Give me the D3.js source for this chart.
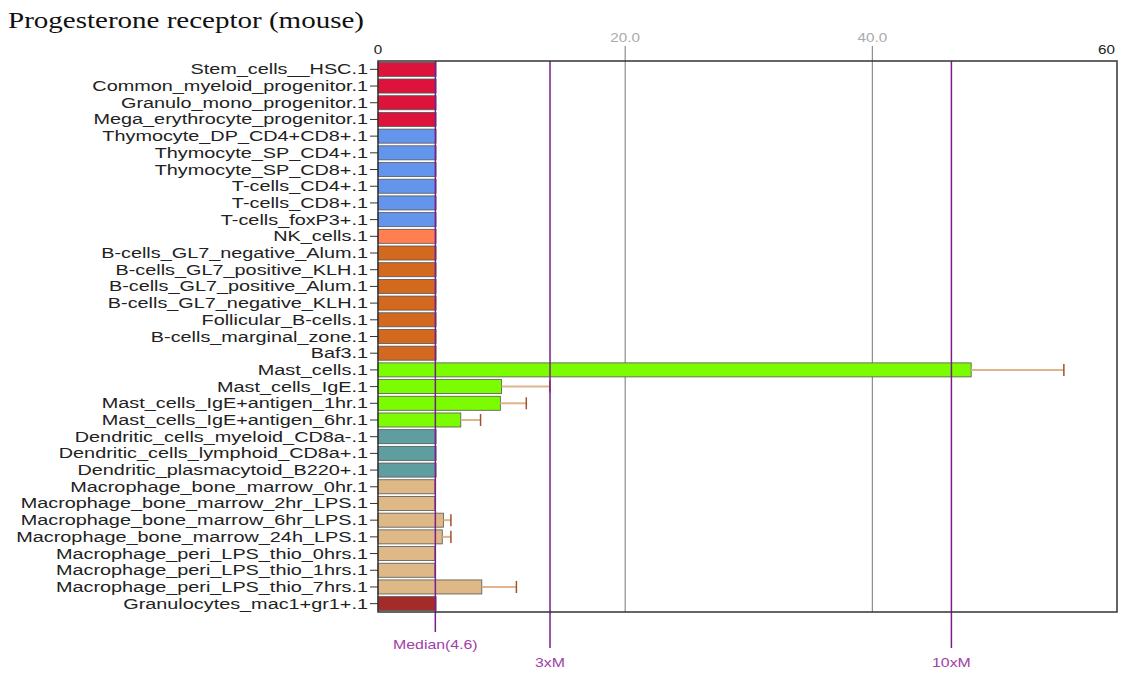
<!DOCTYPE html>
<html lang="en">
<head>
    <meta charset="UTF-8">
    <title>Progesterone receptor (mouse)</title>
    <script src="https://d3js.org/d3.v7.min.js"></script>
    <style>
        body { margin: 0; background: #fff; }
        text { font-family: "Liberation Sans", Arial, sans-serif; }
    </style>
</head>
<body>
    <svg width="1121" height="675"></svg>

    <script>
        // Data
        const categories = [
            "Stem_cells__HSC.1", "Common_myeloid_progenitor.1", "Granulo_mono_progenitor.1",
            "Mega_erythrocyte_progenitor.1", "Thymocyte_DP_CD4+CD8+.1", "Thymocyte_SP_CD4+.1",
            "Thymocyte_SP_CD8+.1", "T-cells_CD4+.1", "T-cells_CD8+.1", "T-cells_foxP3+.1",
            "NK_cells.1", "B-cells_GL7_negative_Alum.1", "B-cells_GL7_positive_KLH.1",
            "B-cells_GL7_positive_Alum.1", "B-cells_GL7_negative_KLH.1", "Follicular_B-cells.1",
            "B-cells_marginal_zone.1", "Baf3.1", "Mast_cells.1", "Mast_cells_IgE.1",
            "Mast_cells_IgE+antigen_1hr.1", "Mast_cells_IgE+antigen_6hr.1",
            "Dendritic_cells_myeloid_CD8a-.1", "Dendritic_cells_lymphoid_CD8a+.1",
            "Dendritic_plasmacytoid_B220+.1", "Macrophage_bone_marrow_0hr.1",
            "Macrophage_bone_marrow_2hr_LPS.1", "Macrophage_bone_marrow_6hr_LPS.1",
            "Macrophage_bone_marrow_24h_LPS.1", "Macrophage_peri_LPS_thio_0hrs.1",
            "Macrophage_peri_LPS_thio_1hrs.1", "Macrophage_peri_LPS_thio_7hrs.1",
            "Granulocytes_mac1+gr1+.1"
        ];
        const values = [
            4.7, 4.7, 4.7, 4.7, 4.7, 4.7, 4.7, 4.7, 4.7, 4.7,
            4.7, 4.7, 4.7, 4.7, 4.7, 4.7, 4.7, 4.7,
            48.0, 10.0, 9.9, 6.7,
            4.7, 4.7, 4.7,
            4.6, 4.6, 5.3, 5.2, 4.6, 4.6, 8.4,
            4.7
        ];
        const errors = [
            0, 0, 0, 0, 0, 0, 0, 0, 0, 0,
            0, 0, 0, 0, 0, 0, 0, 0,
            7.5, 3.9, 2.1, 1.6,
            0, 0, 0,
            0, 0, 0.6, 0.7, 0, 0, 2.8,
            0
        ];
        const barColors = [
            "#dc143c", "#dc143c", "#dc143c", "#dc143c",
            "#6495ed", "#6495ed", "#6495ed", "#6495ed", "#6495ed", "#6495ed",
            "#ff7f50",
            "#d2691e", "#d2691e", "#d2691e", "#d2691e", "#d2691e", "#d2691e", "#d2691e",
            "#7cfc00", "#7cfc00", "#7cfc00", "#7cfc00",
            "#5f9ea0", "#5f9ea0", "#5f9ea0",
            "#deb887", "#deb887", "#deb887", "#deb887", "#deb887", "#deb887", "#deb887",
            "#a52a2a"
        ];
        const median = 4.64;
        const gridTicks = [20, 40];
        const xMax = 59.8;

        const rows = categories.map((c, i) => ({ name: c, value: values[i], err: errors[i], color: barColors[i] }));

        const plot = { left: 378, right: 1117, top: 61, bottom: 612 };
        const stretch = 1.27; // labels in the reference are drawn wide

        const svg = d3.select("svg");

        const x = d3.scaleLinear().domain([0, xMax]).range([plot.left, plot.right]);
        const y = d3.scaleBand().domain(categories).range([plot.top, plot.bottom]).paddingInner(0.16).paddingOuter(0.08);

        // Title
        svg.append("text")
            .attr("transform", `translate(8,28) scale(1.29,1)`)
            .style("font-family", "'Liberation Serif', 'Times New Roman', serif")
            .style("font-size", "22.5px")
            .attr("fill", "#111")
            .text("Progesterone receptor (mouse)");

        // Grid lines at 20 and 40
        svg.selectAll(".grid")
            .data(gridTicks)
            .join("line")
            .attr("x1", d => x(d)).attr("x2", d => x(d))
            .attr("y1", 46).attr("y2", plot.bottom)
            .attr("stroke", "#777").attr("stroke-width", 1);

        svg.selectAll(".gridlab")
            .data(gridTicks)
            .join("text")
            .attr("transform", d => `translate(${x(d)},42) scale(${stretch},1)`)
            .attr("text-anchor", "middle")
            .style("font-size", "12px")
            .attr("fill", "#aaa")
            .text(d3.format(".1f"));

        // End labels 0 and 60
        svg.append("text")
            .attr("transform", `translate(${x(0)},54) scale(${stretch},1)`)
            .attr("text-anchor", "middle")
            .style("font-size", "12px")
            .attr("fill", "#222")
            .text("0");
        svg.append("text")
            .attr("transform", `translate(${x(xMax) - 2},54) scale(${stretch},1)`)
            .attr("text-anchor", "end")
            .style("font-size", "12px")
            .attr("fill", "#222")
            .text("60");

        // Bars
        svg.selectAll(".bar")
            .data(rows)
            .join("rect")
            .attr("x", x(0))
            .attr("y", d => y(d.name))
            .attr("width", d => x(d.value) - x(0))
            .attr("height", y.bandwidth())
            .attr("fill", d => d.color)
            .attr("stroke", "#555")
            .attr("stroke-width", 0.8);

        // Error bars
        const withErr = rows.filter(d => d.err > 0);
        svg.selectAll(".err")
            .data(withErr)
            .join("line")
            .attr("x1", d => x(d.value)).attr("x2", d => x(d.value + d.err))
            .attr("y1", d => y(d.name) + y.bandwidth() / 2)
            .attr("y2", d => y(d.name) + y.bandwidth() / 2)
            .attr("stroke", "#e0b48c").attr("stroke-width", 2);
        svg.selectAll(".cap")
            .data(withErr)
            .join("line")
            .attr("x1", d => x(d.value + d.err)).attr("x2", d => x(d.value + d.err))
            .attr("y1", d => y(d.name) + 1)
            .attr("y2", d => y(d.name) + y.bandwidth() - 1)
            .attr("stroke", "#a0522d").attr("stroke-width", 1.5);

        // Median reference lines
        const refs = [
            { k: 1, label: "Median(" + d3.format(".1f")(median) + ")", ly: 649, bottom: 632 },
            { k: 3, label: "3xM", ly: 667, bottom: 648 },
            { k: 10, label: "10xM", ly: 667, bottom: 648 }
        ];
        svg.selectAll(".ref")
            .data(refs)
            .join("line")
            .attr("x1", d => x(median * d.k)).attr("x2", d => x(median * d.k))
            .attr("y1", plot.top).attr("y2", d => d.bottom)
            .attr("stroke", "#7a1f8a").attr("stroke-width", 1.5);
        svg.selectAll(".reflab")
            .data(refs)
            .join("text")
            .attr("transform", d => `translate(${x(median * d.k)},${d.ly}) scale(${stretch},1)`)
            .attr("text-anchor", "middle")
            .style("font-size", "12.5px")
            .attr("fill", "#a040a8")
            .text(d => d.label);

        // Frame
        svg.append("rect")
            .attr("x", plot.left).attr("y", plot.top)
            .attr("width", plot.right - plot.left).attr("height", plot.bottom - plot.top)
            .attr("fill", "none").attr("stroke", "#333").attr("stroke-width", 1.5);

        // Category labels with tick marks
        const yAxis = svg.append("g");
        yAxis.selectAll("line")
            .data(categories)
            .join("line")
            .attr("x1", plot.left - 8).attr("x2", plot.left)
            .attr("y1", d => y(d) + y.bandwidth() / 2)
            .attr("y2", d => y(d) + y.bandwidth() / 2)
            .attr("stroke", "#333");
        yAxis.selectAll("text")
            .data(categories)
            .join("text")
            .attr("transform", d => `translate(${plot.left - 10},${y(d) + y.bandwidth() / 2 + 5}) scale(1.28,1)`)
            .attr("text-anchor", "end")
            .style("font-size", "15.5px")
            .attr("fill", "#222")
            .text(d => d);
    </script>
</body>
</html>
